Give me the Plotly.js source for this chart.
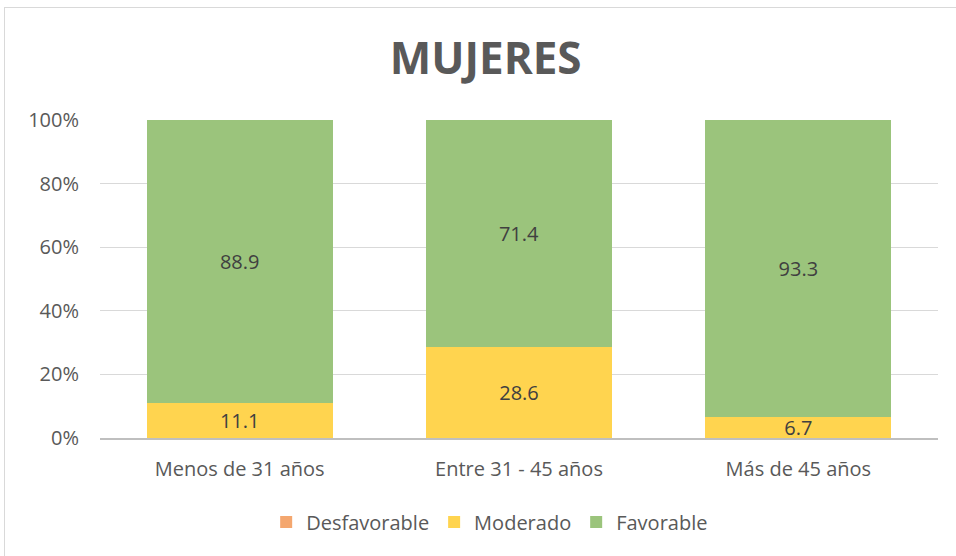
<!DOCTYPE html>
<html>
<head>
<meta charset="utf-8">
<script src="https://cdn.plot.ly/plotly-3.0.1.min.js"></script>
<style>
html,body{margin:0;padding:0;overflow:hidden;background:#fff;}
#chart{position:absolute;left:0;top:0;width:956px;height:556px;}
#frame{position:absolute;left:4px;top:7px;width:980px;height:580px;border:1px solid #d9d9d9;pointer-events:none;}
</style>
</head>
<body>
<div id="chart"></div>
<div id="frame"></div>
<script>
const categories = ["Menos de 31 años", "Entre 31 - 45 años", "Más de 45 años"];
const desfavorable = [0, 0, 0];
const moderado = [11.1, 28.6, 6.7];
const favorable = [88.9, 71.4, 93.3];
const yTicks = [0, 20, 40, 60, 80, 100];
const yTickText = ["0%", "20%", "40%", "60%", "80%", "100%"];

const font = "Open Sans, Liberation Sans, sans-serif";
function lbl(arr){ return arr.map(v => v > 0 ? v.toFixed(1) : ""); }

const labelFont = {color: "#404040", size: 20, family: font};
const traces = [
  {name: "Desfavorable", x: categories, y: desfavorable, type: "bar",
   marker: {color: "#F4A76F"}, text: lbl(desfavorable), textposition: "inside",
   insidetextanchor: "middle", textfont: labelFont, hoverinfo: "none"},
  {name: "Moderado", x: categories, y: moderado, type: "bar",
   marker: {color: "#FFD44F"}, text: lbl(moderado), textposition: "inside",
   insidetextanchor: "middle", textfont: labelFont, hoverinfo: "none"},
  {name: "Favorable", x: categories, y: favorable, type: "bar",
   marker: {color: "#9BC47C"}, text: lbl(favorable), textposition: "inside",
   insidetextanchor: "middle", textfont: labelFont, hoverinfo: "none"}
];

const layout = {
  width: 956, height: 556,
  margin: {l: 100, r: 18, t: 120, b: 118},
  barmode: "stack",
  bargap: 0.333,
  paper_bgcolor: "#ffffff",
  plot_bgcolor: "#ffffff",
  font: {family: font, color: "#595959", size: 20},
  uniformtext: {mode: "show", minsize: 20},
  title: {text: "<b>MUJERES</b>", x: 0.508, xanchor: "center", y: 0.895, yanchor: "middle",
          font: {size: 44, color: "#595959", family: font}},
  xaxis: {showgrid: false, showline: true, linecolor: "#bfbfbf", linewidth: 1.5,
          ticks: "", tickfont: {size: 20, color: "#595959"}, ticklabelstandoff: 12},
  yaxis: {range: [0, 100], tickmode: "array", tickvals: yTicks, ticktext: yTickText, showgrid: true,
          gridcolor: "#d9d9d9", gridwidth: 1, zeroline: false, showline: false,
          tickfont: {size: 20, color: "#595959"}, ticklabelstandoff: 20},
  showlegend: true,
  legend: {orientation: "h", x: 0.465, xanchor: "center", y: -0.264, yanchor: "middle",
           font: {size: 20, color: "#595959"}, traceorder: "normal", itemwidth: 30}
};

Plotly.newPlot("chart", traces, layout, {displayModeBar: false, staticPlot: true});
</script>
</body>
</html>
